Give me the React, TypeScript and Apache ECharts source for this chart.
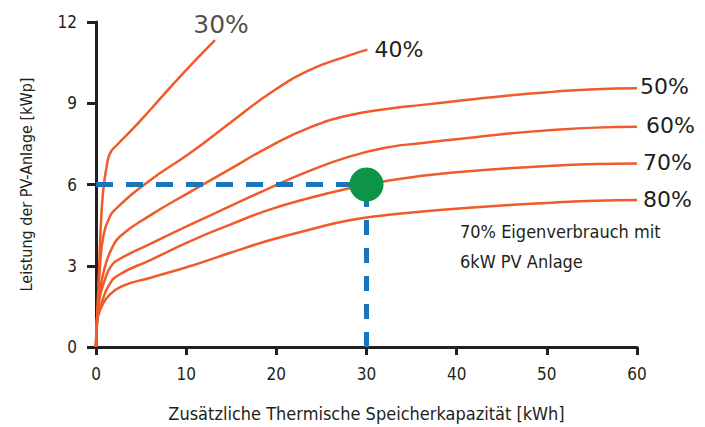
import React, { useEffect, useRef } from "react";
import * as echarts from "echarts";

const xTicks = [0, 10, 20, 30, 40, 50, 60];
const yTicks = [0, 3, 6, 9, 12];

const curve30: [number, number][] = [[0, 0], [0.12, 1.0], [0.33, 2.74], [0.55, 4.59], [0.81, 5.8], [1.18, 6.66], [1.55, 7.15], [2.3, 7.45], [4.1, 8.06], [6.0, 8.75], [9.5, 10.05], [13.2, 11.33]];
const curve40: [number, number][] = [[0, 0], [0.12, 1.0], [0.44, 2.98], [0.81, 4.08], [1.4, 4.72], [2.29, 5.13], [5.97, 6.15], [10.4, 7.15], [14.82, 8.26], [19.25, 9.36], [23.67, 10.22], [28.1, 10.77], [30.1, 10.98]];
const curve50: [number, number][] = [[0, 0], [0.12, 1.0], [0.44, 2.1], [1.0, 2.97], [1.7, 3.6], [2.65, 4.08], [5.97, 4.85], [10.4, 5.72], [14.82, 6.56], [19.25, 7.4], [23.67, 8.1], [28.1, 8.56], [32.5, 8.8], [36.2, 8.94], [41, 9.12], [45.8, 9.29], [50.6, 9.42], [55.4, 9.52], [60, 9.55]];
const curve60: [number, number][] = [[0, 0], [0.12, 1.0], [0.44, 1.87], [1.0, 2.49], [1.6, 2.95], [2.47, 3.22], [5.97, 3.8], [10.4, 4.51], [14.82, 5.19], [19.25, 5.87], [23.67, 6.5], [28.1, 7.03], [32.5, 7.38], [36.2, 7.53], [41, 7.71], [45.8, 7.88], [50.6, 8.01], [55.4, 8.1], [60, 8.13]];
const curve70: [number, number][] = [[0, 0], [0.12, 1.0], [0.3, 1.3], [0.63, 1.63], [1.36, 2.24], [2.47, 2.65], [5.97, 3.2], [10.4, 3.9], [14.82, 4.51], [19.25, 5.07], [23.67, 5.5], [28.1, 5.86], [32.5, 6.15], [36.2, 6.32], [41, 6.48], [45.8, 6.6], [50.6, 6.69], [55.4, 6.76], [60, 6.78]];
const curve80: [number, number][] = [[0, 0], [0.12, 1.0], [0.3, 1.2], [0.63, 1.5], [1.36, 1.87], [2.84, 2.24], [5.97, 2.55], [10.4, 2.98], [14.82, 3.47], [19.25, 3.94], [23.67, 4.33], [28.1, 4.68], [32.5, 4.88], [36.2, 5.0], [41, 5.13], [45.8, 5.24], [50.6, 5.33], [55.4, 5.4], [60, 5.43]];

const curveNames = ["30%", "40%", "50%", "60%", "70%", "80%"];
const guideH: [number, number][] = [[0, 6], [30, 6]];
const guideV: [number, number][] = [[30, 0], [30, 6]];
const highlight: [number, number][] = [[30, 6]];
const annotation = ["70% Eigenverbrauch mit", "6kW PV Anlage"];
const xName = "Zusätzliche Thermische Speicherkapazität [kWh]";
const yName = "Leistung der PV-Anlage [kWp]";

const ORANGE = "#F15A29";
const INK = "#231F20";
const BLUE = "#1B75BB";
const GREEN = "#0E9447";
const NARROW = "'DejaVu Sans Condensed', 'Liberation Sans Narrow', sans-serif";
const WIDE = "'DejaVu Sans', sans-serif";

export default function App() {
  const ref = useRef<HTMLDivElement>(null);
  useEffect(() => {
    if (!ref.current) return;
    const chart = echarts.init(ref.current, undefined, { renderer: "svg" });
    const curves = [curve30, curve40, curve50, curve60, curve70, curve80];
    const endDist = [0, 7, 3, 9, 6, 6];
    const endOff = [0, 0, -2, -1, -1, 0];
    const curveSeries = curves.map((c, i) => ({
      type: "line",
      name: curveNames[i],
      data: c,
      smooth: 0.5,
      symbol: "none",
      showSymbol: false,
      z: 2,
      lineStyle: { color: ORANGE, width: 2.5 },
      endLabel: i === 0 ? { show: false } : {
        show: true,
        formatter: curveNames[i],
        distance: endDist[i],
        offset: [0, endOff[i]],
        color: INK,
        fontSize: 22,
        fontFamily: WIDE,
      },
    }));
    chart.setOption({
      animation: false,
      grid: { left: 96, right: 68, top: 22, bottom: 80 },
      xAxis: {
        type: "value",
        min: xTicks[0],
        max: xTicks[xTicks.length - 1],
        interval: 10,
        splitLine: { show: false },
        axisLine: { show: true, onZero: false, lineStyle: { color: INK, width: 3 } },
        axisTick: { show: true, length: 8, lineStyle: { color: INK, width: 3 } },
        axisLabel: { color: INK, fontSize: 17, fontFamily: NARROW, margin: 18 },
        name: xName,
        nameLocation: "middle",
        nameGap: 57,
        nameTextStyle: { color: INK, fontSize: 18, fontFamily: NARROW },
      },
      yAxis: {
        type: "value",
        min: yTicks[0],
        max: yTicks[yTicks.length - 1],
        interval: 3,
        splitLine: { show: false },
        axisLine: { show: true, onZero: false, lineStyle: { color: INK, width: 3 } },
        axisTick: { show: true, length: 9, lineStyle: { color: INK, width: 3 } },
        axisLabel: { color: INK, fontSize: 17, fontFamily: NARROW, margin: 19 },
        name: yName,
        nameLocation: "middle",
        nameGap: 62,
        nameTextStyle: { color: INK, fontSize: 16, fontFamily: NARROW },
      },
      series: [
        ...curveSeries,
        {
          type: "scatter",
          data: [curve30[curve30.length - 1]],
          symbolSize: 0,
          z: 2,
          label: {
            show: true,
            position: "top",
            distance: 3,
            offset: [6, 0],
            formatter: curveNames[0],
            color: INK,
            fontSize: 25,
            fontFamily: WIDE,
          },
        },
        {
          type: "line",
          data: guideH,
          symbol: "none",
          z: 3,
          lineStyle: { color: BLUE, width: 5, type: [17, 13] },
        },
        {
          type: "line",
          data: guideV,
          symbol: "none",
          z: 3,
          lineStyle: { color: BLUE, width: 5, type: [15, 13] },
        },
        {
          type: "scatter",
          data: highlight,
          symbolSize: 34,
          z: 5,
          itemStyle: { color: GREEN, opacity: 1 },
        },
      ],
      graphic: [
        {
          type: "text",
          left: 460,
          top: 216,
          style: {
            text: annotation.join("\n"),
            fill: INK,
            fontSize: 18,
            fontFamily: NARROW,
            lineHeight: 30,
          },
        },
      ],
    });
    return () => chart.dispose();
  }, []);
  return (
    <div
      ref={ref}
      style={{ position: "fixed", left: 0, top: 0, width: 705, height: 427, background: "#fff" }}
    />
  );
}
